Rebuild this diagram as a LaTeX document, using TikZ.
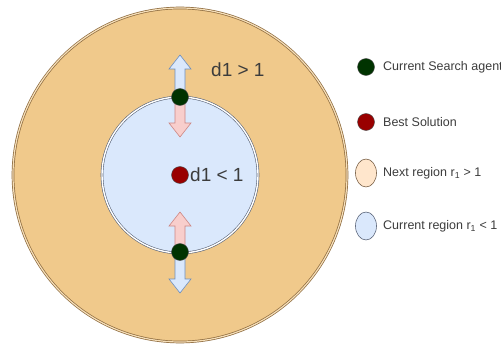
\documentclass[tikz,border=0pt]{standalone}
\usepackage{fontspec}
\setmainfont{Liberation Sans}
\usetikzlibrary{shapes.geometric}
\definecolor{outerfill}{RGB}{240,201,139}
\definecolor{outerdraw}{RGB}{140,105,60}
\definecolor{innerfill}{RGB}{218,232,252}
\definecolor{innerdraw}{RGB}{90,100,120}
\definecolor{bluedraw}{RGB}{108,142,191}
\definecolor{pinkfill}{RGB}{248,206,204}
\definecolor{pinkdraw}{RGB}{184,84,80}
\definecolor{peachfill}{RGB}{255,230,204}
\definecolor{peachdraw}{RGB}{120,95,70}
\definecolor{agentgreen}{RGB}{0,51,0}
\definecolor{bestred}{RGB}{153,0,0}
\definecolor{txt}{RGB}{60,60,60}
\tikzset{
  dot/.style={circle, minimum size=17pt, inner sep=0pt, draw=black!70, line width=0.4pt},
  legtext/.style={anchor=west, text=txt, font=\fontsize{12.5}{15}\selectfont, inner sep=0pt},
  bigtext/.style={text=txt, font=\fontsize{19}{22}\selectfont, inner sep=0pt},
  bluearrow/.style={fill=innerfill, draw=bluedraw, line width=0.6pt, line join=miter},
  pinkarrow/.style={fill=pinkfill, draw=pinkdraw!70, line width=0.6pt, line join=miter},
  legell/.style={ellipse, minimum width=21pt, minimum height=28pt, inner sep=0pt, line width=0.6pt}
}
% block arrow: x, base y, tip y (vertical)
\newcommand\blkarrow[4]{%
  \pgfmathsetmacro\dir{(#3>#2)?1:-1}%
  \pgfmathsetmacro\hy{#3-\dir*14}%
  \draw[#4] (#1-5,#2) -- (#1-5,\hy) -- (#1-11,\hy) -- (#1,#3) -- (#1+11,\hy) -- (#1+5,\hy) -- (#1+5,#2) -- cycle;}
\begin{document}
\begin{tikzpicture}[x=1pt,y=-1pt]
\useasboundingbox (0,0) rectangle (501,345);
\clip (0,0) rectangle (501,345);
% outer region
\draw[fill=outerfill, draw=outerdraw, line width=0.7pt, double=outerfill!60!white, double distance=1.2pt] (180,175) circle[radius=167];
\node (outer) at (180,175) {};
% inner region
\draw[fill=innerfill, draw=innerdraw, line width=0.6pt, double=white, double distance=1.4pt] (180,175) circle[radius=78];
% arrows
\blkarrow{180}{92}{55}{bluearrow}
\blkarrow{180}{102}{137}{pinkarrow}
\blkarrow{180}{247}{212}{pinkarrow}
\blkarrow{180}{257}{293}{bluearrow}
% agents
\node[dot, fill=agentgreen] (a1) at (180,97) {};
\node[dot, fill=agentgreen] (a2) at (180,252) {};
\node[dot, fill=bestred] (best) at (180,175) {};
% labels
\node[bigtext, anchor=west] (t1) at (211,70) {d1 > 1};
\node[bigtext, anchor=west] (t2) at (190,175) {d1 < 1};
% legend
\node[dot, fill=agentgreen] (l1) at (366,67) {};
\node[legtext] (lt1) at (383,67) {Current Search agent};
\node[dot, fill=bestred] (l2) at (366,122) {};
\node[legtext] (lt2) at (383,122) {Best Solution};
\node[legell, fill=peachfill, draw=peachdraw] (l3) at (366,173) {};
\node[legtext] (lt3) at (383,173) {Next region r\textsubscript{1} > 1};
\node[legell, fill=innerfill, draw=innerdraw] (l4) at (366,226) {};
\node[legtext] (lt4) at (383,226) {Current region r\textsubscript{1} < 1};
\end{tikzpicture}
\end{document}
